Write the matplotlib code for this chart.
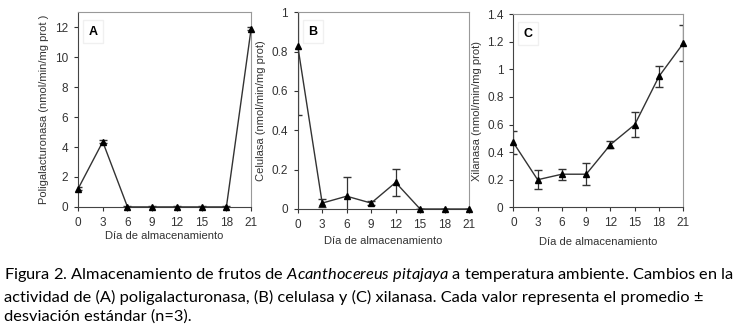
import matplotlib
matplotlib.use("Agg")
import matplotlib.pyplot as plt

# datos
dias = [0, 3, 6, 9, 12, 15, 18, 21]

poligal = [1.2, 4.35, 0, 0, 0, 0, 0, 11.9]
poligal_err = [0.1, 0.1, 0.05, 0.05, 0.05, 0.05, 0.05, 0.1]

celulasa = [0.83, 0.03, 0.065, 0.03, 0.135, 0, 0, 0]
celulasa_err = [0.35, 0.02, 0.1, 0.01, 0.068, 0, 0, 0]

xilanasa = [0.47, 0.2, 0.24, 0.24, 0.455, 0.6, 0.95, 1.19]
xilanasa_err = [0.08, 0.07, 0.04, 0.08, 0.025, 0.09, 0.075, 0.13]

paneles = [
    ("A", poligal, poligal_err, "Poligalacturonasa (nmol/min/mg prot )", 13, [0, 2, 4, 6, 8, 10, 12], 1.5),
    ("B", celulasa, celulasa_err, "Celulasa (nmol/min/mg prot)", 1, [0, 0.2, 0.4, 0.6, 0.8, 1], 4),
    ("C", xilanasa, xilanasa_err, "Xilanasa (nmol/min/mg prot)", 1.4, [0, 0.2, 0.4, 0.6, 0.8, 1, 1.2, 1.4], 6),
]
posiciones = [
    [0.105, 0.373, 0.233, 0.590],
    [0.4007, 0.3667, 0.2306, 0.596],
    [0.6909, 0.3718, 0.2288, 0.585],
]

plt.rcParams["font.family"] = ["Liberation Sans", "DejaVu Sans"]
plt.rcParams["mathtext.fontset"] = "custom"
plt.rcParams["mathtext.it"] = "Lato:italic"
plt.rcParams["mathtext.rm"] = "Lato"

fig = plt.figure(figsize=(7.43, 3.30), dpi=100)

for (letra, vals, errs, ylab, ymax, yticks, lpad), pos in zip(paneles, posiciones):
    ax = fig.add_axes(pos)
    ax.errorbar(dias, vals, yerr=errs, fmt="none", ecolor="#333333", capsize=3, elinewidth=0.9)
    ax.plot(dias, vals, color="#333333", lw=1, marker="^", ms=5,
            mfc="black", mec="black", clip_on=False, zorder=5)
    ax.set_xlim(0, 21)
    ax.set_ylim(0, ymax)
    ax.set_xticks(dias)
    ax.set_yticks(yticks)
    ax.set_yticklabels([("%g" % t) for t in yticks])
    ax.tick_params(labelsize=8.5, length=3, width=0.8, colors="#333333", pad=4)
    for s in ["top", "right"]:
        ax.spines[s].set_color("#999999")
    for s in ["left", "bottom"]:
        ax.spines[s].set_color("#444444")
    ax.set_xlabel("Día de almacenamiento", fontsize=8, color="#333333", labelpad=lpad)
    ax.set_ylabel(ylab, fontsize=8, color="#333333", labelpad=4)
    ax.text(0.06, 0.9, letra, transform=ax.transAxes, fontsize=9, fontweight="bold",
            va="center", ha="left",
            bbox=dict(facecolor="white", edgecolor="#f0f0f0", pad=4))

caption = [
    ("Figura 2. Almacenamiento de frutos de $\\it{Acanthocereus\\ pitajaya}$ a temperatura ambiente. Cambios en la", 0.168),
    ("actividad de (A) poligalacturonasa, (B) celulasa y (C) xilanasa. Cada valor representa el promedio ±", 0.100),
    ("desviación estándar (n=3).", 0.042),
]
for linea, y in caption:
    fig.text(0.005, y, linea, fontsize=11.8, family=["Lato", "DejaVu Sans"], va="center", ha="left")

fig.savefig("out.png", dpi=100)
